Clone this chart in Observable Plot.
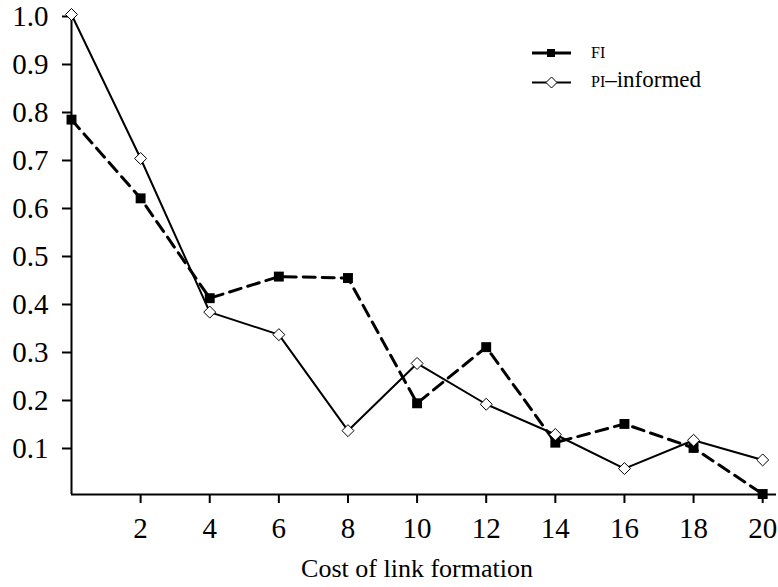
<!DOCTYPE html>
<html><head><meta charset="utf-8">
<script src="https://cdn.jsdelivr.net/npm/d3@7"></script>
<script src="https://cdn.jsdelivr.net/npm/@observablehq/plot@0.6"></script>
<style>
body{margin:0;background:#fff}
#chart{position:relative;width:778px;height:587px}
#chart svg, #chart svg text{font-family:"Liberation Serif","DejaVu Serif",serif !important}
</style>
</head><body><div id="chart"></div>
<script>
// ---- data ----
const costs = [0, 2, 4, 6, 8, 10, 12, 14, 16, 18, 20];
const fiValues = [0.781, 0.617, 0.409, 0.454, 0.451, 0.190, 0.307, 0.108, 0.147, 0.097, 0.001];
const piInformedValues = [1.000, 0.700, 0.380, 0.333, 0.133, 0.273, 0.188, 0.125, 0.054, 0.113, 0.072];
const xTicks = [2, 4, 6, 8, 10, 12, 14, 16, 18, 20];
const yTicks = [0.1, 0.2, 0.3, 0.4, 0.5, 0.6, 0.7, 0.8, 0.9, 1.0];
const xLabel = "Cost of link formation";
const legendLabels = [["fi", ""], ["pi", "–informed"]];

const fi = costs.map((c, i) => ({cost: c, value: fiValues[i]}));
const pi = costs.map((c, i) => ({cost: c, value: piInformedValues[i]}));

const font = "Liberation Serif, DejaVu Serif, serif";

const chart = Plot.plot({
  width: 778,
  height: 587,
  marginLeft: 71,
  marginRight: 2,
  marginTop: 14,
  marginBottom: 93,
  style: {fontFamily: font, background: "#fff", color: "#000"},
  x: {domain: [0, 20.4]},
  y: {domain: [0, 1]},
  marks: [
    Plot.axisX({ticks: xTicks, tickSize: 9, tickPadding: 14, fontSize: 29, label: null, strokeWidth: 2}),
    Plot.axisY({ticks: yTicks, tickFormat: ".1f", tickSize: 9, tickPadding: 14, fontSize: 29, label: null, strokeWidth: 2, dy: 2}),
    Plot.ruleY([0], {strokeWidth: 2}),
    Plot.ruleX([0], {strokeWidth: 2}),
    Plot.line(fi, {x: "cost", y: "value", stroke: "black", strokeWidth: 3, strokeDasharray: "12,7"}),
    Plot.line(pi, {x: "cost", y: "value", stroke: "black", strokeWidth: 2}),
    Plot.dot(fi, {x: "cost", y: "value", symbol: "square", r: 5.6, fill: "black", stroke: null}),
    Plot.dot(pi, {x: "cost", y: "value", symbol: "diamond2", r: 5.4, fill: "white", stroke: "black", strokeWidth: 1}),
    Plot.text([xLabel], {frameAnchor: "bottom", dy: 82, dx: -7, fontSize: 26})
  ]
});

document.getElementById("chart").appendChild(chart);

// ---- legend ----
const svg = d3.select(chart);
const lg = svg.append("g").attr("font-size", 23).attr("text-anchor", "start");
legendLabels.forEach((lab, i) => {
  const y = 53 + i * 29.5;
  const g = lg.append("g").attr("transform", `translate(532,${y})`);
  g.append("line").attr("x1", 0).attr("x2", 39).attr("y1", 0).attr("y2", 0)
    .attr("stroke", "black").attr("stroke-width", i === 0 ? 3 : 2);
  if (i === 0) {
    g.append("rect").attr("x", 15).attr("y", -4).attr("width", 8).attr("height", 8).attr("fill", "black");
  } else {
    g.append("path").attr("d", "M19.5,-5.5L25,0L19.5,5.5L14,0Z").attr("fill", "white").attr("stroke", "black").attr("stroke-width", 1);
  }
  const t = g.append("text").attr("x", 59).attr("y", 4.5).attr("text-anchor", "start").attr("fill", "black");
  t.append("tspan").style("font-variant", "small-caps").text(lab[0]);
  if (lab[1]) t.append("tspan").text(lab[1]);
});
</script>
</body></html>
